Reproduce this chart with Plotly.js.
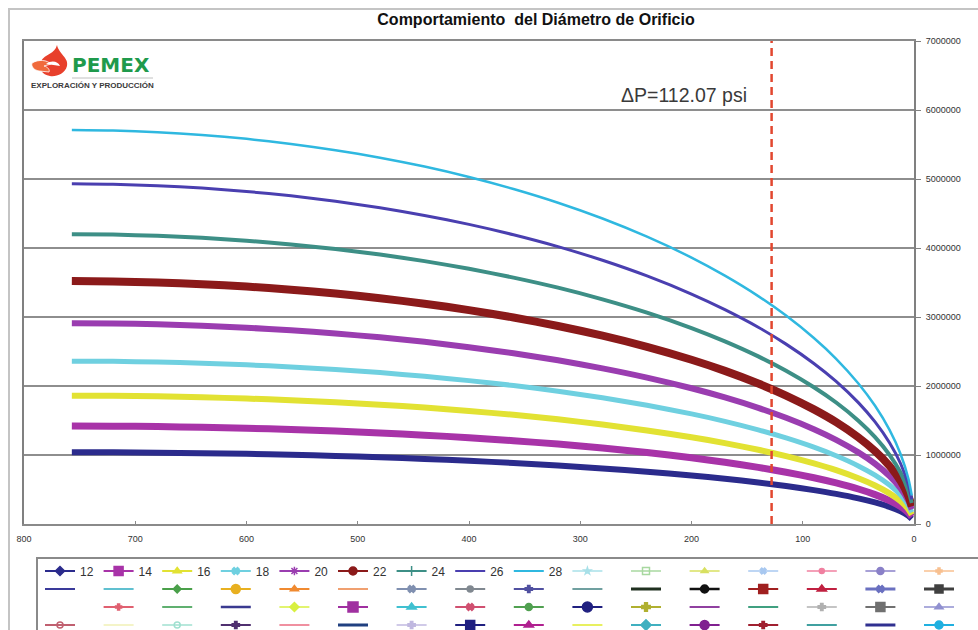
<!DOCTYPE html>
<html>
<head>
<meta charset="utf-8">
<script src="https://cdn.plot.ly/plotly-3.0.1.min.js"></script>
<style>
html,body{margin:0;padding:0;overflow:hidden;background:#ffffff;}
#chart{position:absolute;left:0;top:0;width:978px;height:660px;}
#frame{position:absolute;left:8px;top:8px;width:2000px;height:2000px;border-left:2px solid #c4c4c4;border-top:2px solid #c4c4c4;pointer-events:none;z-index:5;}
</style>
</head>
<body>
<div id="chart"></div>
<div id="frame"></div>
<script>
// ---- data (pressure in psi, flow in thousands) ----
const pressure = [757,720,680,640,600,560,520,480,440,400,360,320,280,240,200,170,140,115,90,70,50,35,22,12,5,2];
const diameters = ['12','14','16','18','20','22','24','26','28'];
const flow12 = [1040,1039,1034,1027,1017,1003,987,967,943,916,884,848,806,758,703,656,602,550,491,436,371,312,248,184,119,75];
const flow14 = [1420,1418,1412,1402,1388,1370,1347,1320,1288,1251,1207,1158,1101,1036,960,895,821,751,670,595,507,426,339,251,163,103];
const flow16 = [1860,1857,1850,1837,1818,1794,1765,1729,1687,1638,1582,1517,1442,1356,1258,1172,1076,984,878,780,663,558,444,329,213,135];
const flow18 = [2360,2357,2347,2331,2307,2277,2239,2194,2141,2078,2007,1924,1830,1721,1596,1488,1365,1248,1114,989,842,708,564,418,270,171];
const flow20 = [2910,2906,2894,2874,2845,2807,2761,2705,2640,2563,2474,2373,2256,2122,1967,1834,1683,1539,1374,1220,1038,873,695,515,333,211];
const flow22 = [3520,3515,3500,3476,3441,3396,3340,3273,3193,3100,2993,2870,2729,2567,2380,2219,2036,1862,1661,1476,1256,1056,841,623,403,255];
const flow24 = [4200,4194,4176,4148,4106,4052,3985,3905,3810,3699,3571,3425,3256,3063,2840,2647,2429,2221,1982,1761,1498,1260,1003,743,481,305];
const flow26 = [4930,4923,4902,4868,4820,4756,4678,4583,4472,4342,4192,4020,3822,3595,3333,3107,2852,2607,2327,2067,1759,1479,1177,873,564,357];
const flow28 = [5710,5702,5678,5639,5582,5508,5418,5309,5180,5029,4855,4656,4427,4164,3861,3599,3303,3020,2695,2394,2037,1713,1364,1011,654,414];
const flows = [flow12,flow14,flow16,flow18,flow20,flow22,flow24,flow26,flow28];
const markerLinePressure = 128;
const yTicks = [0,1000000,2000000,3000000,4000000,5000000,6000000,7000000];
const xTicks = [800,700,600,500,400,300,200,100,0];

// ---- styles ----
const seriesColors = ['#2b2b8c','#a833a8','#e2e233','#6fd0e0','#9a3db0','#8b1a1a','#3d8f86','#4a3fb0','#2fb8e0'];
const seriesWidths = [6,7,6,5,6,8,4,3,2.5];
const seriesSymbols = ['diamond','square','triangle-up','x','asterisk-open','circle','cross-thin-open','line-ew-open','circle'];
const seriesSymbolSizes = [7,9,7,6,7,8,7,7,0];

// extra (empty) legend entries: color, symbol, size, line width
const extraLegend = [
 ['#a8e0e8','star',5,1.5],['#a8d8a0','square-open',7,1.5],['#d8e060','triangle-up',6,1.5],['#a8c8f0','x',5,1.5],['#f080a0','circle',5,1.5],['#8a80c8','circle',7,1.5],['#f8c090','cross',5,1.5],
 ['#3a3a9a','circle',0,2],['#60c0d0','circle',0,2],['#4aa04a','diamond',6,2],['#e8b020','circle',9,2],['#f08a30','triangle-up',7,2],['#f0a070','circle',0,2],['#8090b0','x',6,2],['#808890','circle',6,2],
 ['#5050a0','cross',6,2],['#70a0a0','circle',0,2],['#203020','circle',0,3],['#111111','circle',8,2.5],['#a02020','square',9,2],['#c02040','triangle-up',8,2],['#6a70c0','x',6,3],['#404040','square',8,3],
 ['rgba(0,0,0,0)','circle',0,1],['#e06070','cross',5,2],['#60b070','circle',0,2],['#3a3a90','circle',0,2.5],['#d8f040','diamond',7,1.5],['#a030a0','square',10,2],['#40c0d0','triangle-up',8,2],['#d05070','x',6,2],
 ['#50a050','circle',7,2],['#202080','circle',10,2],['#b0b030','cross',7,2],['#9040a0','circle',0,2],['#40a080','circle',0,2],['#b0b0b0','cross',6,1.5],['#707070','square',9,2],['#9090d0','triangle-up',7,1.5],
 ['#c06070','circle-open',6,2],['#f4f4c8','circle',0,2],['#a0e0d0','circle-open',6,1.5],['#503070','cross',6,2],['#f090a0','circle',0,2],['#204080','circle',0,3],['#c0b8e0','cross',6,1.5],['#202080','square',9,2],
 ['#b02090','triangle-up',8,2],['#e8f060','circle',0,2],['#40b0c0','diamond',8,2],['#802090','circle',9,2],['#a02030','cross',6,2],['#40a0a0','circle',0,2],['#303090','circle',0,3],['#20b0e0','circle',8,2]
];

// ---- geometry helpers (pixel -> paper) ----
const W = 978, H = 660;
const PL = 24, PR = 914, PT = 41, PB = 524;
const px = v => (v - PL) / (PR - PL);
const py = v => (PB - v) / (PB - PT);

const traces = [];
// data curves
flows.forEach((arr, i) => {
  traces.push({
    type: 'scatter', mode: 'lines', x: pressure, y: arr.map(v => v * 1000),
    line: {color: seriesColors[i], width: seriesWidths[i], shape: 'spline', smoothing: 0.6},
    showlegend: false, hoverinfo: 'skip'
  });
});

// legend entries
const legendEntries = [];
diameters.forEach((d, i) => {
  legendEntries.push({name: d, color: seriesColors[i], symbol: seriesSymbols[i], size: seriesSymbolSizes[i], lw: 2});
});
extraLegend.forEach(e => legendEntries.push({name: ' ', color: e[0], symbol: e[1], size: e[2], lw: e[3]}));

const COLS = 16, HALF = 8, COLW = 58.6;
const rowY = [571, 589, 607, 625];
const legendLayouts = {};
legendEntries.forEach((e, i) => {
  const row = Math.floor(i / COLS), col = i % COLS;
  const half = col >= HALF ? 1 : 0;
  const n = row * 2 + half + 1;
  const id = n === 1 ? 'legend' : 'legend' + n;
  traces.push({
    type: 'scatter', mode: e.size > 0 ? 'lines+markers' : 'lines',
    x: [null], y: [null], name: e.name, legend: id,
    line: {color: e.color, width: e.lw},
    marker: {color: e.color, symbol: e.symbol, size: e.size, line: {color: e.color, width: 1.5}},
    hoverinfo: 'skip'
  });
  if (!legendLayouts[id]) {
    legendLayouts[id] = {
      orientation: 'h', xref: 'container', yref: 'container',
      x: (40 + half * HALF * COLW) / W, xanchor: 'left',
      y: 1 - rowY[row] / H, yanchor: 'middle',
      bgcolor: 'rgba(0,0,0,0)', borderwidth: 0,
      entrywidth: COLW - 45, entrywidthmode: 'pixels',
      font: {family: 'Liberation Sans, Arial, sans-serif', size: 12, color: '#333333'},
      traceorder: 'normal', itemclick: false, itemdoubleclick: false
    };
  }
});

// logo path (pixels -> paper)
function pathFrom(cmds) {
  return cmds.map(c => {
    if (typeof c === 'string') return c;
    return px(c[0]).toFixed(5) + ',' + py(c[1]).toFixed(5);
  }).join(' ');
}
const dropPath = pathFrom(['M',[57,45],'C',[59,54],[69,58],[67,66],'C',[65,74],[56,77],[50,76],'C',[42,75],[38,68],[41,61],'C',[45,54],[55,54],[57,45],'Z']);
const wingPath = pathFrom(['M',[32,63],'C',[39,59],[47,60],[51,64],'L',[44,66],'C',[48,67],[50,70],[49,72],'L',[39,71],'C',[34,70],[31,67],[32,63],'Z']);
const eyePath = pathFrom(['M',[46,64],'C',[51,60],[58,61],[60,66],'C',[56,65],[51,65],[46,64],'Z']);

const layout = {
  width: W, height: H,
  margin: {l: PL, r: W - PR, t: PT, b: H - PB, autoexpand: false},
  paper_bgcolor: 'rgba(0,0,0,0)', plot_bgcolor: '#ffffff',
  font: {family: 'Liberation Sans, Arial, sans-serif', color: '#222222'},
  title: {
    text: 'Comportamiento  del Diámetro de Orificio',
    font: {family: 'Liberation Sans, Arial, sans-serif', size: 16, color: '#111111', weight: 'bold'},
    xref: 'container', x: 536 / W, xanchor: 'center',
    yref: 'container', y: 1 - 19 / H, yanchor: 'middle'
  },
  xaxis: {
    range: [800, 0], tickvals: xTicks, showgrid: false, zeroline: false,
    showline: true, mirror: true, linecolor: '#8a8a8a', linewidth: 2,
    ticks: 'inside', ticklen: 3, tickcolor: '#8a8a8a', ticklabelstandoff: 5,
    tickfont: {size: 9, color: '#333333'}, fixedrange: true
  },
  yaxis: {
    side: 'right', range: [0, 7000000], tickvals: yTicks, tickformat: 'd',
    showgrid: true, gridcolor: '#8e8e8e', gridwidth: 2, zeroline: false,
    showline: true, mirror: true, linecolor: '#808080', linewidth: 2,
    ticks: 'outside', ticklen: 5, tickcolor: '#808080', ticklabelstandoff: 3,
    tickfont: {size: 9, color: '#333333'}, fixedrange: true
  },
  shapes: [
    {type: 'line', xref: 'x', yref: 'y', x0: markerLinePressure, x1: markerLinePressure, y0: 0, y1: 7000000,
     line: {color: '#e2472f', width: 2.5, dash: '8px,5px'}, layer: 'above'},
    {type: 'rect', xref: 'paper', yref: 'paper', x0: px(37), x1: px(1150), y0: py(760), y1: py(558),
     line: {color: '#8a8a8a', width: 2}, fillcolor: 'rgba(0,0,0,0)', layer: 'above'},
    {type: 'path', xref: 'paper', yref: 'paper', path: dropPath, fillcolor: '#e8402c', line: {width: 0}, layer: 'above'},
    {type: 'path', xref: 'paper', yref: 'paper', path: wingPath, fillcolor: '#f06a3c', line: {color: '#ffffff', width: 0.8}, layer: 'above'},
    {type: 'path', xref: 'paper', yref: 'paper', path: eyePath, fillcolor: '#ffffff', line: {width: 0}, layer: 'above'},
    {type: 'line', xref: 'paper', yref: 'paper', x0: px(72), x1: px(153), y0: py(78), y1: py(78),
     line: {color: '#b0b0b0', width: 0.8}, layer: 'above'}
  ],
  annotations: [
    {xref: 'paper', yref: 'paper', x: px(619), y: py(95), xanchor: 'left', yanchor: 'middle',
     text: 'ΔP=112.07 psi', showarrow: false,
     font: {family: 'Liberation Sans, Arial, sans-serif', size: 19.5, color: '#3a3a3a'}},
    {xref: 'paper', yref: 'paper', x: px(70), y: py(65), xanchor: 'left', yanchor: 'middle',
     text: '<b>PEMEX</b>', showarrow: false,
     font: {family: 'DejaVu Sans, Liberation Sans, sans-serif', size: 20, color: '#1f9a4c'}},
    {xref: 'paper', yref: 'paper', x: px(29), y: py(86), xanchor: 'left', yanchor: 'middle',
     text: '<b>EXPLORACIÓN Y PRODUCCIÓN</b>', showarrow: false,
     font: {family: 'Liberation Sans, Arial, sans-serif', size: 8, color: '#3a3a3a'}}
  ]
};
Object.assign(layout, legendLayouts);

Plotly.newPlot('chart', traces, layout, {displayModeBar: false, staticPlot: true});
</script>
</body>
</html>
